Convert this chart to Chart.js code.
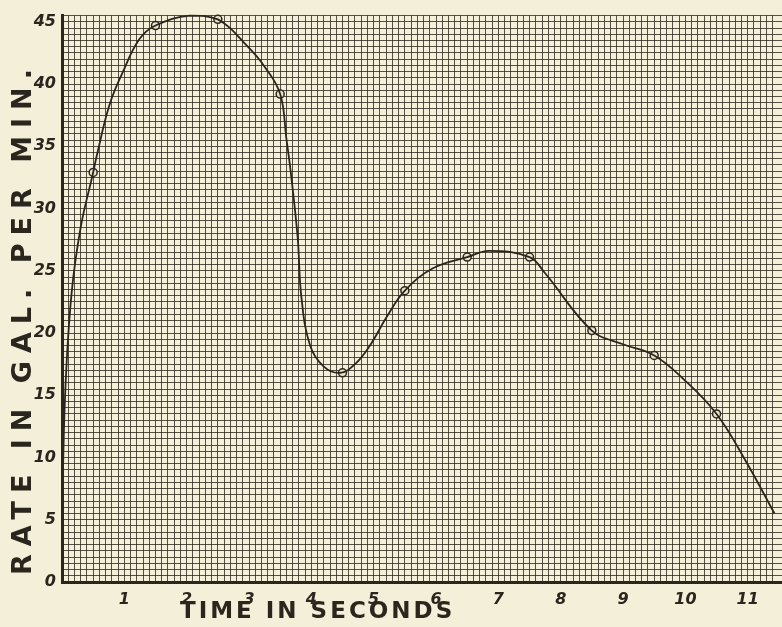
<!DOCTYPE html>
<html>
<head>
<meta charset="utf-8">
<script src="https://cdn.jsdelivr.net/npm/chart.js@4.4.1/dist/chart.umd.min.js"></script>
<style>
  body { margin: 0; background: #f4efd8; overflow: hidden; }
  #wrap { width: 790px; height: 627px; }
</style>
</head>
<body>
<div id="wrap"><canvas id="rateChart"></canvas></div>
<script>
// plotted observations (small circles on the sheet)
const pointTime = [0.5, 1.5, 2.5, 3.5, 4.5, 5.5, 6.5, 7.5, 8.5, 9.5, 10.5];
const pointRate = [32.9, 44.7, 45.2, 39.2, 16.8, 23.4, 26.1, 26.1, 20.2, 18.2, 13.5];

const curveTime = [0, 0.05, 0.15, 0.3, 0.5, 0.56, 0.76, 0.97, 1.24, 1.5, 2.05, 2.5, 2.98, 3.25, 3.5, 3.6, 3.67, 3.78, 3.84, 3.98, 4.2, 4.46, 4.7, 4.94, 5.21, 5.5, 5.95, 6.5, 6.85, 7.5, 7.75, 8.5, 9.0, 9.5, 9.97, 10.5, 10.97, 11.43];
const curveRate = [5, 15, 23, 28.5, 32.9, 34.3, 38.3, 40.9, 43.6, 44.7, 45.5, 45.2, 43, 41.4, 39.2, 35.6, 32.9, 27.7, 22.9, 19, 17.3, 16.8, 17.5, 19, 21.3, 23.4, 25.2, 26.1, 26.6, 26.1, 24.8, 20.2, 19.1, 18.2, 16.3, 13.5, 9.7, 5.5];

// labelled ticks
const xLabels = [1, 2, 3, 4, 5, 6, 7, 8, 9, 10, 11];
const yLabels = [0, 5, 10, 15, 20, 25, 30, 35, 40, 45];

const ink = '#2a261e';
const gridInk = 'rgba(45, 40, 30, 0.8)';
const numFont = { family: '"DejaVu Sans"', size: 16, weight: 'bold', style: 'italic' };

const near = (list, v) => list.find(n => Math.abs(n - v) < 1e-6);

// big lettered axis titles
const axisTitles = {
  id: 'axisTitles',
  afterDraw(chart) {
    const { ctx, scales: { x, y } } = chart;
    ctx.save();
    ctx.fillStyle = ink;
    ctx.textAlign = 'center';
    ctx.textBaseline = 'middle';
    ctx.font = 'bold 23px "DejaVu Sans"';
    ctx.letterSpacing = '3px';
    ctx.fillText('TIME IN SECONDS', x.getPixelForValue(4.1), 612);
    ctx.font = 'bold 27px "DejaVu Sans"';
    ctx.letterSpacing = '8px';
    ctx.translate(24, y.getPixelForValue(21.2));
    ctx.rotate(-Math.PI / 2);
    ctx.fillText('RATE IN GAL. PER MIN.', 0, 0);
    ctx.restore();
  }
};

new Chart(document.getElementById('rateChart'), {
  type: 'line',
  data: {
    datasets: [{
      label: 'curve',
      data: curveTime.map((t, i) => ({ x: t, y: curveRate[i] })),
      borderColor: ink,
      borderWidth: 1.8,
      pointRadius: 0,
      tension: 0.4,
      clip: false
    }, {
      label: 'observed',
      data: pointTime.map((t, i) => ({ x: t, y: pointRate[i] })),
      showLine: false,
      pointStyle: 'circle',
      pointRadius: 4,
      pointBorderWidth: 1.5,
      pointBorderColor: ink,
      pointBackgroundColor: '#e9e3c8',
      clip: false
    }]
  },
  options: {
    responsive: true,
    maintainAspectRatio: false,
    animation: false,
    layout: { padding: { top: 10, right: 0, left: 0, bottom: 0 } },
    plugins: { legend: { display: false }, tooltip: { enabled: false } },
    scales: {
      x: {
        type: 'linear',
        min: 0,
        max: 11.55,
        afterFit: s => { s.height = 45; },
        grid: { color: gridInk, lineWidth: 1, drawTicks: false },
        border: { color: ink, width: 3 },
        ticks: {
          stepSize: 0.1,
          autoSkip: false,
          maxRotation: 0,
          padding: 8,
          color: ink,
          font: numFont,
          callback: v => (near(xLabels, v) !== undefined ? String(near(xLabels, v)) : '')
        }
      },
      y: {
        min: 0,
        max: 45.5,
        afterFit: s => { s.width = 62; },
        grid: { color: gridInk, lineWidth: 1, drawTicks: false },
        border: { color: ink, width: 3 },
        ticks: {
          stepSize: 0.5,
          autoSkip: false,
          padding: 6,
          color: ink,
          font: numFont,
          callback: v => (near(yLabels, v) !== undefined ? String(near(yLabels, v)) : '')
        }
      }
    }
  },
  plugins: [axisTitles]
});
</script>
</body>
</html>
